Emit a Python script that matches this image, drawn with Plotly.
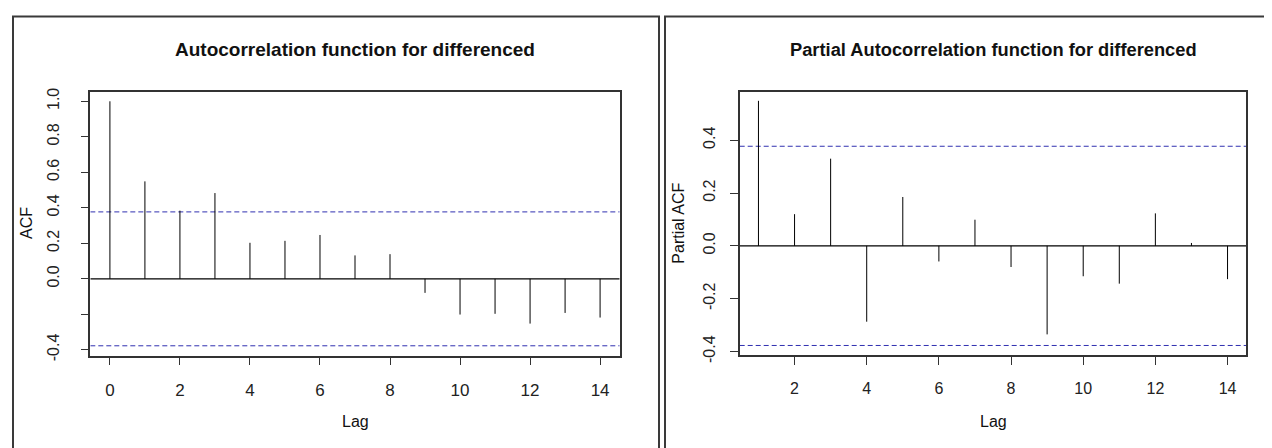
import plotly.graph_objects as go

# ---- data ----
acf_lags = list(range(0, 15))
acf_vals = [1.0, 0.549, 0.384, 0.483, 0.203, 0.214, 0.247, 0.132, 0.139,
            -0.079, -0.201, -0.197, -0.252, -0.192, -0.218]
pacf_lags = list(range(1, 15))
pacf_vals = [0.549, 0.120, 0.330, -0.287, 0.185, -0.059, 0.099, -0.080,
             -0.335, -0.115, -0.143, 0.123, 0.011, -0.126]
ci = 0.377

acf_xticks = [0, 2, 4, 6, 8, 10, 12, 14]
acf_yticks = [-0.4, -0.2, 0.0, 0.2, 0.4, 0.6, 0.8, 1.0]
acf_yticktext = ["-0.4", "", "0.0", "0.2", "0.4", "0.6", "0.8", "1.0"]
pacf_xticks = [2, 4, 6, 8, 10, 12, 14]
pacf_yticks = [-0.4, -0.2, 0.0, 0.2, 0.4]
pacf_yticktext = ["-0.4", "-0.2", "0.0", "0.2", "0.4"]

title_left = "Autocorrelation function for differenced"
title_right = "Partial Autocorrelation function for differenced"
xlab = "Lag"
ylab_left = "ACF"
ylab_right = "Partial ACF"

W, H = 1272, 448
FONT = "Liberation Sans, Arial, sans-serif"
AXC = "#333333"
CIC = "#3030b0"
TXT = "#222222"

acf_xrange = [-0.56, 14.56]
acf_yrange = [-0.432, 1.055]
pacf_xrange = [0.48, 14.52]
pacf_yrange = [-0.414, 0.582]

def px_x(p):
    return p / W

def px_y(p):
    return 1 - p / H

def stems(xs, ys):
    sx, sy = [], []
    for x, y in zip(xs, ys):
        sx += [x, x, None]
        sy += [0, y, None]
    return sx, sy

fig = go.Figure()
for lags, vals, xr, yr, xa, ya in ((acf_lags, acf_vals, acf_xrange, acf_yrange, "x", "y"),
                                   (pacf_lags, pacf_vals, pacf_xrange, pacf_yrange, "x2", "y2")):
    # confidence bounds
    fig.add_trace(go.Scatter(x=[xr[0], xr[1], None, xr[0], xr[1]], y=[ci, ci, None, -ci, -ci],
                             mode="lines", line=dict(color=CIC, width=1, dash="5px,3px"),
                             xaxis=xa, yaxis=ya, showlegend=False, hoverinfo="skip"))
    # zero line
    fig.add_trace(go.Scatter(x=[xr[0], xr[1]], y=[0, 0], mode="lines",
                             line=dict(color="black", width=1.2),
                             xaxis=xa, yaxis=ya, showlegend=False, hoverinfo="skip"))
    sx, sy = stems(lags, vals)
    fig.add_trace(go.Scatter(x=sx, y=sy, mode="lines", line=dict(color="black", width=1),
                             xaxis=xa, yaxis=ya, showlegend=False, hoverinfo="skip"))

L = dict(x0=82.3, x1=611.7, y0=81.7, y1=353.0)
R = dict(x0=731.7, x1=1238.3, y0=82.3, y1=352.7)

def xaxis_common(dom, rng, ticks, anchor, size):
    return dict(domain=[px_x(dom[0]), px_x(dom[1])], range=rng, tickvals=ticks,
                anchor=anchor,
                ticks="outside", ticklen=8, tickcolor=AXC, tickwidth=1,
                showline=True, mirror=True, linecolor=AXC, linewidth=1.5,
                showgrid=False, zeroline=False, fixedrange=True,
                tickfont=dict(family=FONT, size=size, color=TXT),
                ticklabelstandoff=10)

def yaxis_common(dom, rng, ticks, text, anchor, standoff, size):
    return dict(domain=[px_y(dom[1]), px_y(dom[0])], range=rng, tickvals=ticks,
                ticktext=text, tickangle=-90, anchor=anchor,
                ticks="outside", ticklen=8, tickcolor=AXC, tickwidth=1,
                showline=True, mirror=True, linecolor=AXC, linewidth=1.5,
                showgrid=False, zeroline=False, fixedrange=True,
                tickfont=dict(family=FONT, size=size, color=TXT),
                ticklabelstandoff=standoff)

fig.update_layout(
    width=W, height=H, margin=dict(l=0, r=0, t=0, b=0),
    paper_bgcolor="white", plot_bgcolor="white", showlegend=False,
    xaxis=xaxis_common((L["x0"], L["x1"]), acf_xrange, acf_xticks, "y", 17),
    yaxis=yaxis_common((L["y0"], L["y1"]), acf_yrange, acf_yticks, acf_yticktext, "x", 15, 16),
    xaxis2=xaxis_common((R["x0"], R["x1"]), pacf_xrange, pacf_xticks, "y2", 16),
    yaxis2=yaxis_common((R["y0"], R["y1"]), pacf_yrange, pacf_yticks, pacf_yticktext, "x2", 9, 16),
)

shapes = []
# outer panel frames
for x0, x1 in ((5, 651), (657, 1267)):
    shapes.append(dict(type="rect", xref="paper", yref="paper",
                       x0=px_x(x0), x1=px_x(x1), y0=-0.05, y1=px_y(4.5),
                       line=dict(color="#3a3a3a", width=2), fillcolor="rgba(0,0,0,0)"))
fig.update_layout(shapes=shapes)

ann = []
def add_text(text, x, y, size, bold=False, angle=0):
    ann.append(dict(text=("<b>%s</b>" % text) if bold else text, x=px_x(x), y=px_y(y),
                    xref="paper", yref="paper", showarrow=False, textangle=angle,
                    xanchor="center", yanchor="middle",
                    font=dict(family=FONT, size=size, color="#111")))

add_text(title_left, (L["x0"] + L["x1"]) / 2, 39, 19, bold=True)
add_text(title_right, (R["x0"] + R["x1"]) / 2, 39, 18.3, bold=True)
add_text(xlab, (L["x0"] + L["x1"]) / 2, 421, 16)
add_text(xlab, (R["x0"] + R["x1"]) / 2, 421, 16)
add_text(ylab_left, 18.5, (L["y0"] + L["y1"]) / 2, 16, angle=-90)
add_text(ylab_right, 671, (R["y0"] + R["y1"]) / 2, 16, angle=-90)
fig.update_layout(annotations=ann)

fig.write_html("out.html")
